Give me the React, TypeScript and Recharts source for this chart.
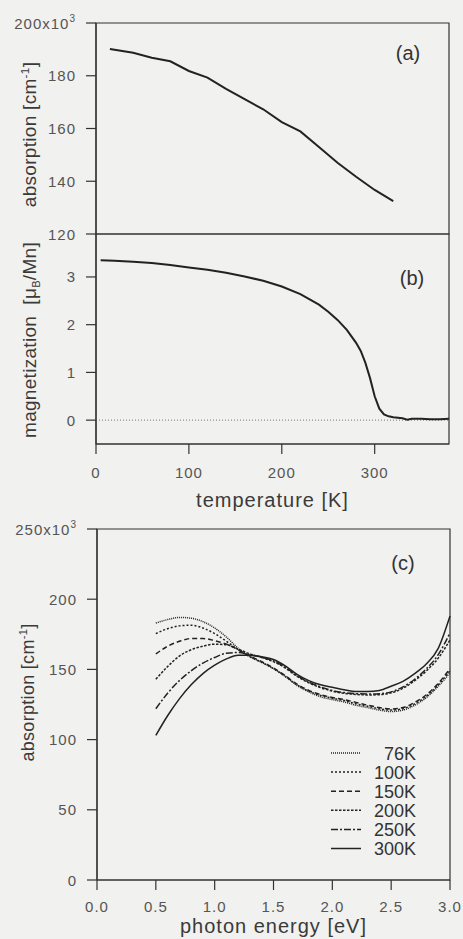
import React from 'react';
import { LineChart, Line, XAxis, YAxis, ReferenceLine, ReferenceArea, Legend, Label } from 'recharts';

// (a) absorption vs temperature
const tempA = [15, 40, 60, 80, 100, 120, 140, 160, 180, 200, 220, 240, 260, 280, 300, 320];
const absorptionA = [190.1, 188.7, 186.8, 185.5, 181.8, 179.3, 175.0, 171.1, 167.3, 162.4, 158.9, 153.0, 147.0, 141.7, 136.7, 132.5];

// (b) magnetization vs temperature
const tempB = [5, 20, 40, 60, 80, 100, 120, 140, 160, 180, 200, 220, 240, 250, 260, 270, 280, 285, 290, 295, 300, 305, 310, 315, 320, 330, 335, 340, 350, 360, 370, 380];
const magnetization = [3.35, 3.34, 3.32, 3.29, 3.25, 3.2, 3.15, 3.09, 3.01, 2.92, 2.8, 2.64, 2.42, 2.27, 2.1, 1.89, 1.62, 1.45, 1.2, 0.88, 0.5, 0.24, 0.12, 0.08, 0.06, 0.04, 0.01, 0.03, 0.03, 0.02, 0.02, 0.03];

// (c) absorption spectra at several temperatures
const energy = [0.5, 0.6, 0.7, 0.8, 0.9, 1.0, 1.1, 1.2, 1.3, 1.4, 1.5, 1.6, 1.7, 1.8, 1.9, 2.0, 2.1, 2.2, 2.3, 2.4, 2.5, 2.6, 2.7, 2.8, 2.9, 3.0];
const abs76 = [183, 185.5, 187, 186.5, 184, 179.5, 173, 165, 159, 155, 150.5, 145, 138.5, 134, 130.5, 128.5, 126.8, 124.5, 122.8, 121, 120, 121, 124.5, 130, 138, 147.5];
const abs100 = [175.5, 179, 181, 181.5, 179.5, 175.5, 170, 164, 159, 155, 150.5, 145, 139, 134.5, 131.5, 129.5, 127.8, 125.5, 123.8, 122, 121, 122, 125.5, 131, 139, 149];
const abs150 = [161, 166.5, 170, 172, 172, 170.5, 168, 164, 159.5, 155.5, 151, 145.5, 139.5, 135, 132, 130, 128.5, 126.5, 124.5, 122.8, 121.8, 122.8, 126.5, 132, 140, 150.5];
const abs200 = [143, 152, 159.5, 164, 166.5, 168, 167.5, 164.5, 161, 158.5, 155.5, 151, 145, 140.5, 137, 134.5, 133, 132.2, 131.8, 132, 133.3, 136.5, 142, 149, 158, 171];
const abs250 = [122, 133, 142, 149, 154.5, 158.5, 161.5, 162, 160.5, 158.5, 156, 151.5, 145.5, 141, 137.5, 135, 133.5, 132.7, 132.5, 132.7, 134, 137.5, 143, 150.5, 160.5, 176];
const abs300 = [103, 117, 129, 139, 147, 153, 157.5, 160, 160, 159, 157, 152.5, 146.5, 142, 139, 137.3, 135.5, 134.3, 134.3, 135, 138, 141.5, 147, 154, 165, 188];

const seriesC = [
  { key: 'k76', name: '76K', values: abs76 },
  { key: 'k100', name: '100K', values: abs100 },
  { key: 'k150', name: '150K', values: abs150 },
  { key: 'k200', name: '200K', values: abs200 },
  { key: 'k250', name: '250K', values: abs250 },
  { key: 'k300', name: '300K', values: abs300 },
];

const dashByKey: Record<string, string | undefined> = {
  k76: '1 1',
  k100: '2 2',
  k150: '5 3',
  k200: '2.5 1.5',
  k250: '7 2 2 2',
  k300: undefined,
};

const tempTicks = [0, 100, 200, 300];
const absATicks = [120, 140, 160, 180, 200];
const magTicks = [0, 1, 2, 3];
const energyTicks = [0, 0.5, 1, 1.5, 2, 2.5, 3];
const absCTicks = [0, 50, 100, 150, 200, 250];

const tempDomain = [0, 380];
const absADomain = [120, 200];
const magDomain = [-0.5, 3.9];
const energyDomain = [0, 3];
const absCDomain = [0, 250];

const dataA = tempA.map((t, i) => ({ t, a: absorptionA[i] }));
const dataB = tempB.map((t, i) => ({ t, m: magnetization[i] }));
const dataC = energy.map((e, i) => {
  const row: Record<string, number> = { e };
  seriesC.forEach((s) => (row[s.key] = s.values[i]));
  return row;
});

const FONT = '"Liberation Sans", Arial, Helvetica, sans-serif';
const INK = '#222';
const frame = { stroke: '#333', strokeWidth: 1.2 };
const tickLine = { stroke: '#333', strokeWidth: 1.2 };
const tickFont = { fontFamily: FONT, fontSize: 15, fill: '#555', letterSpacing: 1 };
const titleFont = { fontFamily: FONT, fill: '#3a3a3a' };

function YTick({ x, y, payload, top }: any) {
  const v = payload.value;
  return (
    <text x={x} y={y} dy={5.5} textAnchor="end" {...tickFont}>
      {v === top ? (
        <>
          {v}x10
          <tspan dy={-7} fontSize={10}>3</tspan>
        </>
      ) : (
        v
      )}
    </text>
  );
}

function XTick({ x, y, payload, fmt }: any) {
  return (
    <text x={x} y={y} dy={11} textAnchor="middle" {...tickFont}>
      {fmt ? fmt(payload.value) : payload.value}
    </text>
  );
}

function XTitle({ viewBox, dy, text }: any) {
  const cx = viewBox.x + viewBox.width / 2;
  return (
    <text x={cx} y={viewBox.y + dy} textAnchor="middle" fontSize={20} letterSpacing={1} {...titleFont}>
      {text}
    </text>
  );
}

function YTitle({ viewBox, shift, base, size, children }: any) {
  const cx = viewBox.x + base;
  const cy = viewBox.y + viewBox.height / 2 + shift;
  return (
    <text
      x={cx}
      y={cy}
      transform={`rotate(-90 ${cx} ${cy})`}
      textAnchor="middle"
      fontSize={size}
      letterSpacing={0.3}
      {...titleFont}
    >
      {children}
    </text>
  );
}

const absorptionTitle = (size: number) => (
  <>
    absorption [cm
    <tspan dy={-7} fontSize={size * 0.62}>-1</tspan>
    <tspan dy={7}>]</tspan>
  </>
);

function LegendC() {
  return (
    <svg width={100} height={125}>
      {seriesC.map((s, i) => {
        const cy = 20 + i * 19.1;
        return (
          <g key={s.key}>
            <line x1={6} x2={36} y1={cy} y2={cy} stroke={INK} strokeWidth={1.5} strokeDasharray={dashByKey[s.key]} />
            <text x={91} y={cy + 6.5} textAnchor="end" fontFamily={FONT} fontSize={18} fill="#333">
              {s.name}
            </text>
          </g>
        );
      })}
    </svg>
  );
}

const panelLabel = { fontFamily: FONT, fontSize: 20, fill: '#333', textAnchor: 'middle' as const };

export default function App() {
  return (
    <div style={{ position: 'absolute', left: 0, top: 0, width: 463, height: 939, background: '#f1f1ef', overflow: 'hidden' }}>
      <div style={{ position: 'absolute', left: 0, top: 0 }}>
        <LineChart width={463} height={250} data={dataA} margin={{ top: 23, right: 14, bottom: 16, left: 0 }}>
          <XAxis
            type="number"
            dataKey="t"
            domain={tempDomain}
            ticks={tempTicks}
            interval={0}
            height={0}
            tickSize={10}
            tick={() => <g />}
            tickLine={tickLine}
            axisLine={frame}
          />
          <YAxis
            type="number"
            domain={absADomain}
            ticks={absATicks}
            interval={0}
            width={96}
            tickSize={10}
            tickMargin={10}
            tickLine={tickLine}
            axisLine={frame}
            tick={(p: any) => <YTick {...p} top={200} />}
          >
            <Label content={(p: any) => <YTitle viewBox={p.viewBox} shift={6} base={36} size={19}>{absorptionTitle(19)}</YTitle>} />
          </YAxis>
          <ReferenceArea x1={tempDomain[0]} x2={tempDomain[1]} y1={absADomain[0]} y2={absADomain[1]} fill="none" stroke="#333" strokeWidth={1.2} />
          <Line type="linear" dataKey="a" stroke={INK} strokeWidth={2} dot={false} isAnimationActive={false} />
          <text x={408} y={60} {...panelLabel}>(a)</text>
        </LineChart>
      </div>

      <div style={{ position: 'absolute', left: 0, top: 224 }}>
        <LineChart width={463} height={300} data={dataB} margin={{ top: 10, right: 14, bottom: 0, left: 0 }}>
          <XAxis
            type="number"
            dataKey="t"
            domain={tempDomain}
            ticks={tempTicks}
            interval={0}
            height={80}
            tickSize={10}
            tickMargin={13}
            tickLine={tickLine}
            axisLine={frame}
            tick={(p: any) => <XTick {...p} />}
          >
            <Label content={(p: any) => <XTitle viewBox={p.viewBox} dy={63} text="temperature [K]" />} />
          </XAxis>
          <YAxis
            type="number"
            domain={magDomain}
            ticks={magTicks}
            interval={0}
            width={96}
            tickSize={10}
            tickMargin={10}
            tickLine={tickLine}
            axisLine={frame}
            tick={(p: any) => <YTick {...p} />}
          >
            <Label
              content={(p: any) => (
                <YTitle viewBox={p.viewBox} shift={1} base={36} size={19}>
                  magnetization{'\u00a0\u00a0'}[μ
                  <tspan dy={4} fontSize={11}>B</tspan>
                  <tspan dy={-4}>/Mn]</tspan>
                </YTitle>
              )}
            />
          </YAxis>
          <ReferenceArea x1={tempDomain[0]} x2={tempDomain[1]} y1={magDomain[0]} y2={magDomain[1]} fill="none" stroke="#333" strokeWidth={1.2} />
          <ReferenceLine y={0} stroke="#777" strokeWidth={1} strokeDasharray="1 2" />
          <Line type="linear" dataKey="m" stroke={INK} strokeWidth={2} dot={false} isAnimationActive={false} />
          <text x={412} y={61} {...panelLabel}>(b)</text>
        </LineChart>
      </div>

      <div style={{ position: 'absolute', left: 0, top: 510 }}>
        <LineChart width={463} height={429} data={dataC} margin={{ top: 19, right: 13, bottom: 0, left: 0 }}>
          <XAxis
            type="number"
            dataKey="e"
            domain={energyDomain}
            ticks={energyTicks}
            interval={0}
            height={59}
            tickSize={10}
            tickMargin={11}
            tickLine={tickLine}
            axisLine={frame}
            tick={(p: any) => <XTick {...p} fmt={(v: number) => v.toFixed(1)} />}
          >
            <Label content={(p: any) => <XTitle viewBox={p.viewBox} dy={53} text="photon energy [eV]" />} />
          </XAxis>
          <YAxis
            type="number"
            domain={absCDomain}
            ticks={absCTicks}
            interval={0}
            width={97}
            tickSize={10}
            tickMargin={10}
            tickLine={tickLine}
            axisLine={frame}
            tick={(p: any) => <YTick {...p} top={250} />}
          >
            <Label content={(p: any) => <YTitle viewBox={p.viewBox} shift={-12} base={34} size={18}>{absorptionTitle(18)}</YTitle>} />
          </YAxis>
          <ReferenceArea x1={energyDomain[0]} x2={energyDomain[1]} y1={absCDomain[0]} y2={absCDomain[1]} fill="none" stroke="#333" strokeWidth={1.2} />
          {seriesC.map((s) => (
            <Line
              key={s.key}
              type="monotone"
              dataKey={s.key}
              name={s.name}
              stroke={INK}
              strokeWidth={1.5}
              strokeDasharray={dashByKey[s.key]}
              dot={false}
              isAnimationActive={false}
            />
          ))}
          <Legend
            layout="vertical"
            align="center"
            verticalAlign="middle"
            content={() => <LegendC />}
            wrapperStyle={{ left: 325, top: 223, width: 100 }}
          />
          <text x={403} y={60} {...panelLabel}>(c)</text>
        </LineChart>
      </div>
    </div>
  );
}
